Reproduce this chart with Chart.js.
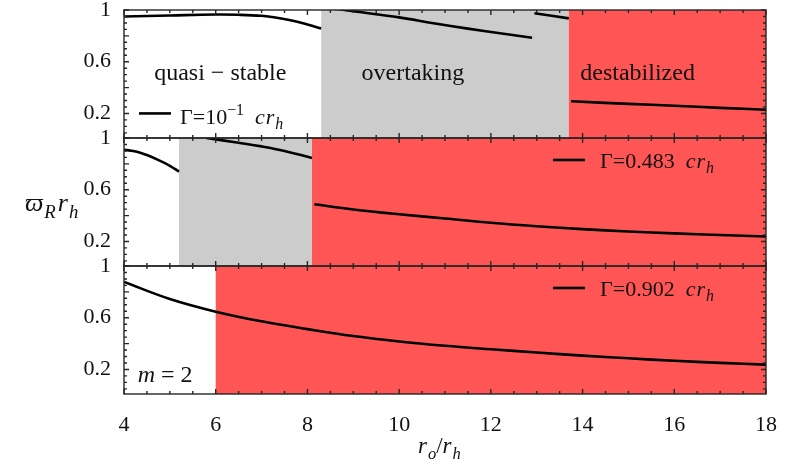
<!DOCTYPE html>
<html>
<head>
<meta charset="utf-8">
<script src="https://cdn.jsdelivr.net/npm/chart.js@4.4.1/dist/chart.umd.min.js"></script>
<style>
	html, body { margin: 0; padding: 0; background: #fff; }
	#wrap { width: 797px; height: 474px; }
</style>
</head>
<body>
<div id="wrap"><canvas id="chart" width="797" height="474"></canvas></div>
<script>
'use strict';

// axes
const xTicks = [4, 6, 8, 10, 12, 14, 16, 18];
const yTicks = [0.2, 0.6, 1];

// panel 1: Gamma = 10^-1 c r_h
const p1StableX = [4, 5, 6, 6.5, 7, 7.3, 7.8, 8.3];
const p1StableY = [0.95, 0.958, 0.965, 0.963, 0.955, 0.942, 0.908, 0.856];
const p1OvertakeX = [8.3, 9, 10, 10.75, 11.5, 12.2, 12.9];
const p1OvertakeY = [1.025, 0.99, 0.943, 0.898, 0.856, 0.82, 0.786];
const p1UpperX = [12.95, 13.7];
const p1UpperY = [0.975, 0.935];
const p1LowerX = [13.75, 15, 16, 17, 18];
const p1LowerY = [0.294, 0.274, 0.26, 0.243, 0.229];
const p1Gray = [8.3, 13.7];
const p1Red = [13.7, 18];

// panel 2: Gamma = 0.483 c r_h
const p2StableX = [4, 4.28, 4.5, 4.79, 5, 5.2];
const p2StableY = [0.909, 0.894, 0.868, 0.823, 0.785, 0.74];
const p2OvertakeX = [5.8, 6.5, 7, 7.5, 8.1];
const p2OvertakeY = [1.0, 0.963, 0.935, 0.9, 0.845];
const p2LowerX = [8.15, 9, 10, 11, 12, 13, 14, 15, 16, 17, 18];
const p2LowerY = [0.487, 0.447, 0.41, 0.378, 0.345, 0.318, 0.295, 0.277, 0.262, 0.25, 0.238];
const p2Gray = [5.2, 8.1];
const p2Red = [8.1, 18];

// panel 3: Gamma = 0.902 c r_h
const p3X = [4, 5, 6, 7, 8, 9, 10, 11, 12, 13, 14, 15, 16, 17, 18];
const p3Y = [0.877, 0.745, 0.647, 0.572, 0.512, 0.458, 0.416, 0.383, 0.356, 0.331, 0.307, 0.286, 0.267, 0.251, 0.237];
const p3Red = [6, 18];

const gammaValues = ['10', '0.483', '0.902'];
const regionNames = ['quasi \u2212 stable', 'overtaking', 'destabilized'];

const SERIF = '"Liberation Serif", "DejaVu Serif", serif';
const RED = '#ff5555';
const GRAY = '#cccccc';
const FRAME = '#262626';

function segment(xs, ys, axis) {
	return {
		data: xs.map((x, i) => ({ x: x, y: ys[i] })),
		yAxisID: axis,
		borderColor: '#000',
		borderWidth: 2.6,
		pointRadius: 0,
		fill: false,
		tension: 0.4
	};
}

function yAxis(weight) {
	return {
		type: 'linear',
		position: 'left',
		stack: 'panels',
		stackWeight: 1,
		weight: weight,
		min: 0.01,
		max: 1,
		grid: { display: false },
		border: { display: false },
		ticks: {
			font: { family: SERIF, size: 22 },
			color: '#111',
			padding: 5,
			callback: (v) => String(v)
		},
		afterBuildTicks: (s) => { s.ticks = yTicks.map(v => ({ value: v })); },
		afterFit: (s) => { s.width = 124; s.paddingTop = 0; s.paddingBottom = 0; }
	};
}

function drawRich(ctx, x, y, parts, size) {
	parts.forEach(function (p) {
		const s = (p.sub || p.sup) ? size * 0.72 : size;
		ctx.font = (p.italic ? 'italic ' : '') + s + 'px ' + SERIF;
		const dy = p.sub ? size * 0.25 : (p.sup ? -size * 0.4 : 0);
		ctx.fillText(p.t, x, y + dy);
		x += ctx.measureText(p.t).width + (p.gap || 0);
	});
}

const panelPlugin = {
	id: 'panels',
	beforeDatasetsDraw(chart) {
		const { ctx, scales } = chart;
		const xs = scales.x;
		const bands = [['y1', p1Gray, GRAY], ['y1', p1Red, RED], ['y2', p2Gray, GRAY], ['y2', p2Red, RED], ['y3', p3Red, RED]];
		ctx.save();
		bands.forEach(function (b) {
			const ys = scales[b[0]];
			const l = xs.getPixelForValue(b[1][0]);
			const r = xs.getPixelForValue(b[1][1]);
			ctx.fillStyle = b[2];
			ctx.fillRect(l, ys.top, r - l, ys.bottom - ys.top);
		});
		ctx.restore();
	},
	afterDatasetsDraw(chart) {
		const { ctx, chartArea, scales } = chart;
		const xs = scales.x;
		ctx.save();
		ctx.strokeStyle = FRAME;
		ctx.lineWidth = 1.4;
		['y1', 'y2', 'y3'].forEach(function (id) {
			const ys = scales[id];
			const top = Math.round(ys.top), bottom = Math.round(ys.bottom);
			ctx.strokeRect(chartArea.left, top, chartArea.right - chartArea.left, bottom - top);
			ctx.beginPath();
			for (let v = 4; v <= 18; v += 0.5) {
				const px = xs.getPixelForValue(v);
				const len = v % 2 === 0 ? 5 : 3;
				ctx.moveTo(px, top); ctx.lineTo(px, top + len);
				ctx.moveTo(px, bottom); ctx.lineTo(px, bottom - len);
			}
			for (let k = 1; k <= 20; k++) {
				const v = k * 0.05;
				const py = ys.getPixelForValue(v);
				const len = k % 4 === 0 ? 5 : 3;
				ctx.moveTo(chartArea.left, py); ctx.lineTo(chartArea.left + len, py);
				ctx.moveTo(chartArea.right, py); ctx.lineTo(chartArea.right - len, py);
			}
			ctx.stroke();
		});

		// region names in the top panel
		const y1 = scales.y1;
		ctx.fillStyle = '#111';
		ctx.font = '24px ' + SERIF;
		ctx.textAlign = 'center';
		ctx.textBaseline = 'alphabetic';
		[6.1, 10.3, 15.2].forEach(function (v, i) {
			ctx.fillText(regionNames[i], xs.getPixelForValue(v), y1.getPixelForValue(0.46));
		});
		ctx.textAlign = 'left';

		// legends
		const legendPos = [
			{ id: 'y1', x: chartArea.left + 15, dx: 41, lineY: 0.2, textY: 0.12 },
			{ id: 'y2', x: chartArea.right - 213, dx: 47, lineY: 0.83, textY: 0.77 },
			{ id: 'y3', x: chartArea.right - 213, dx: 47, lineY: 0.83, textY: 0.77 }
		];
		legendPos.forEach(function (lp, i) {
			const ys = scales[lp.id];
			const ly = ys.getPixelForValue(lp.lineY);
			ctx.beginPath();
			ctx.lineWidth = 2.6;
			ctx.strokeStyle = '#000';
			ctx.moveTo(lp.x, ly); ctx.lineTo(lp.x + 32, ly);
			ctx.stroke();
			const parts = [{ t: '\u0393=' + gammaValues[i] }];
			if (i === 0) parts.push({ t: '\u22121', sup: true });
			parts.push({ t: '  ' }, { t: 'c', italic: true, gap: 1 }, { t: 'r', italic: true, gap: 1 }, { t: 'h', italic: true, sub: true });
			drawRich(ctx, lp.x + lp.dx, ys.getPixelForValue(lp.textY), parts, 22);
		});

		// m = 2
		const y3 = scales.y3;
		drawRich(ctx, xs.getPixelForValue(4.3), y3.getPixelForValue(0.104), [{ t: 'm', italic: true, gap: 6 }, { t: '=', gap: 6 }, { t: '2' }], 24);

		// axis titles
		const y2 = scales.y2;
		drawRich(ctx, 25, (y2.top + y2.bottom) / 2 + 9, [{ t: '\u03d6', italic: true, gap: 1 }, { t: 'R', italic: true, sub: true, gap: 2 }, { t: 'r', italic: true, gap: 1 }, { t: 'h', italic: true, sub: true }], 26);
		drawRich(ctx, 418, chartArea.bottom + 59, [{ t: 'r', italic: true, gap: 1 }, { t: 'o', italic: true, sub: true }, { t: '/' }, { t: 'r', italic: true, gap: 1 }, { t: 'h', italic: true, sub: true }], 23);
		ctx.restore();
	}
};

new Chart(document.getElementById('chart'), {
	type: 'line',
	data: {
		datasets: [
			segment(p1StableX, p1StableY, 'y1'),
			segment(p1OvertakeX, p1OvertakeY, 'y1'),
			segment(p1UpperX, p1UpperY, 'y1'),
			segment(p1LowerX, p1LowerY, 'y1'),
			segment(p2StableX, p2StableY, 'y2'),
			segment(p2OvertakeX, p2OvertakeY, 'y2'),
			segment(p2LowerX, p2LowerY, 'y2'),
			segment(p3X, p3Y, 'y3')
		]
	},
	options: {
		responsive: false,
		animation: false,
		devicePixelRatio: 1,
		layout: { padding: { left: 0, right: 31, top: 10, bottom: 0 } },
		plugins: { legend: { display: false }, tooltip: { enabled: false } },
		scales: {
			x: {
				type: 'linear',
				min: 4,
				max: 18,
				grid: { display: false },
				border: { display: false },
				ticks: {
					font: { family: SERIF, size: 22 },
					color: '#111',
					padding: 10,
					maxRotation: 0,
					callback: (v) => String(v)
				},
				afterBuildTicks: (s) => { s.ticks = xTicks.map(v => ({ value: v })); },
				afterFit: (s) => { s.height = 80; s.paddingLeft = 0; s.paddingRight = 0; }
			},
			y1: yAxis(3),
			y2: yAxis(2),
			y3: yAxis(1)
		}
	},
	plugins: [panelPlugin]
});
</script>
</body>
</html>
